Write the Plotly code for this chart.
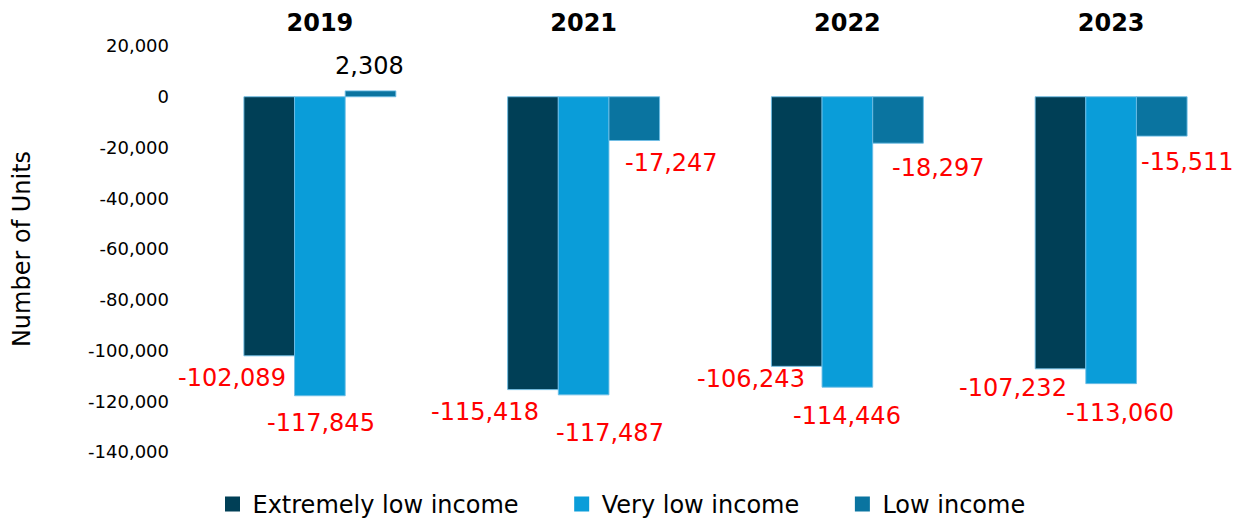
import plotly.graph_objects as go

years = ["2019", "2021", "2022", "2023"]
series_names = ["Extremely low income", "Very low income", "Low income"]
extremely_low = [-102089, -115418, -106243, -107232]
very_low = [-117845, -117487, -114446, -113060]
low = [2308, -17247, -18297, -15511]
y_ticks = [20000, 0, -20000, -40000, -60000, -80000, -100000, -120000, -140000]

colors = ["#003F56", "#0A9DD9", "#0A74A0"]
# label offsets in pixels (x shift from category center, y shift from bar end)
label_dx = [[-88, -99, -96, -98], [1, 26, 0, 9], [50, 88, 91, 76]]
label_dy = [[-22, -22, -13, -19], [-27, -38, -29, -29], [25, -22, -25, -26]]
legend_pad = ["\u00a0" * 5, "\u00a0" * 5, ""]

FONT = "DejaVu Sans, Verdana, sans-serif"

fig = go.Figure()
all_series = [extremely_low, very_low, low]
for name, vals, col in zip(series_names, all_series, colors):
    fig.add_trace(go.Bar(
        x=years, y=vals, name=name, showlegend=False,
        marker=dict(color=col, line=dict(color="rgba(110,190,230,0.9)", width=1)),
    ))
# legend entries with square swatches
for name, col, pad in zip(series_names, colors, legend_pad):
    fig.add_trace(go.Scatter(
        x=[None], y=[None], mode="markers", name=name + pad,
        marker=dict(symbol="square", size=15, color=col, line=dict(width=0)),
        hoverinfo="skip",
    ))

annotations = []
for si, vals in enumerate(all_series):
    for ci, v in enumerate(vals):
        annotations.append(dict(
            x=ci, y=v, xref="x", yref="y",
            text=f"{v:,}", showarrow=False,
            xshift=label_dx[si][ci], yshift=label_dy[si][ci],
            xanchor="center", yanchor="middle",
            font=dict(family=FONT, size=24, color="#FF0000" if v < 0 else "#000000"),
        ))

fig.update_layout(
    width=1243, height=520,
    margin=dict(l=188, r=0, t=46, b=68),
    paper_bgcolor="white", plot_bgcolor="white",
    barmode="group", bargap=0.424, bargroupgap=0,
    font=dict(family=FONT, color="#000000"),
    showlegend=True,
    legend=dict(
        orientation="h", xref="container", yref="container",
        x=0.5, xanchor="center", y=0.03, yanchor="middle",
        font=dict(family=FONT, size=24, color="#000000"),
        itemclick=False, itemdoubleclick=False,
    ),
    annotations=annotations,
)
fig.update_xaxes(
    type="category", categoryorder="array", categoryarray=years,
    range=[-0.5, len(years) - 0.5],
    side="top", showgrid=False, showline=False, zeroline=False,
    ticks="", tickfont=dict(family=FONT, size=24, color="#000000", weight="bold"),
    ticklabelstandoff=9,
)
fig.update_yaxes(
    range=[-140000, 20000], tickvals=y_ticks, ticktext=[f"{v:,}" for v in y_ticks],
    showgrid=False, showline=False, zeroline=False, ticks="",
    tickfont=dict(family=FONT, size=18, color="#000000"),
    ticklabelstandoff=18,
    title=dict(text="Number of Units", font=dict(family=FONT, size=24, color="#000000"), standoff=50),
)

fig.write_html("out.html")
